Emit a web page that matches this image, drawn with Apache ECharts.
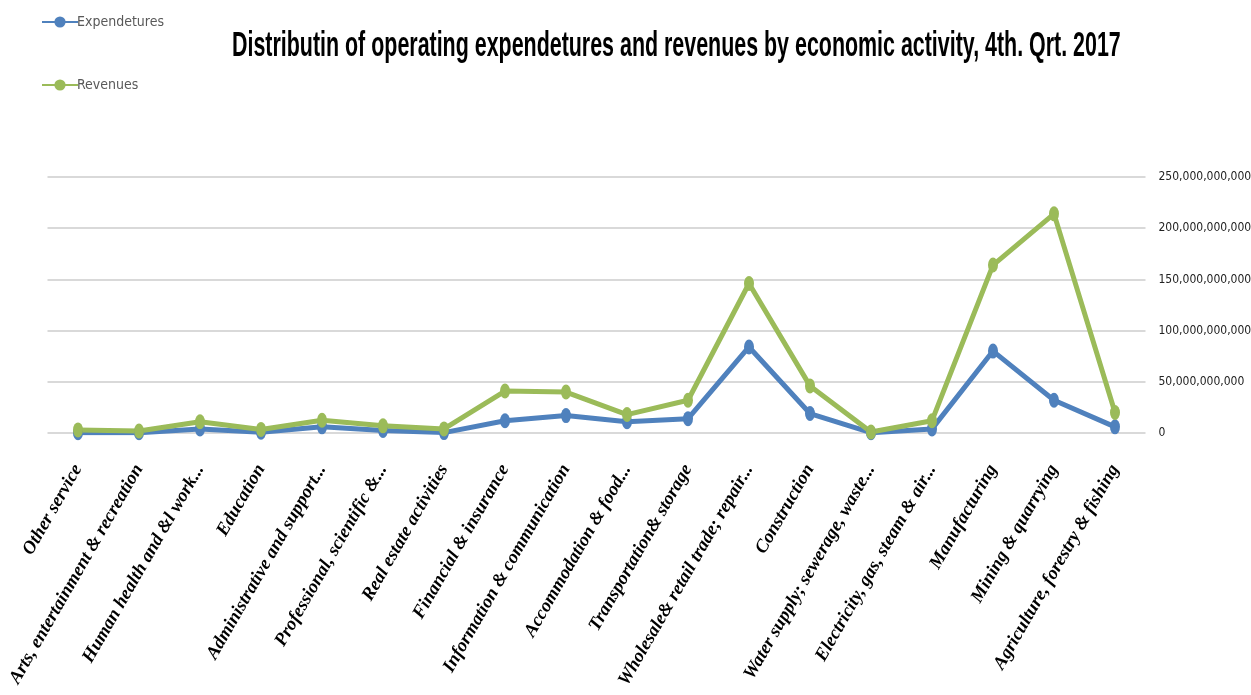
<!DOCTYPE html>
<html>
<head>
<meta charset="utf-8">
<script src="https://cdn.jsdelivr.net/npm/echarts@6/dist/echarts.min.js"></script>
<style>
html,body{margin:0;padding:0;background:#fff;}
#chart{width:1251px;height:695px;}
</style>
</head>
<body>
<div id="chart"></div>
<script>
const categories = [
  "Other service",
  "Arts, entertainment & recreation",
  "Human health and &l work...",
  "Education",
  "Administrative and support...",
  "Professional, scientific &...",
  "Real estate activities",
  "Financial & insurance",
  "Information & communication",
  "Accommodation & food...",
  "Transportation& storage",
  "Wholesale& retail trade; repair...",
  "Construction",
  "Water supply; sewerage, waste...",
  "Electricity, gas, steam & air...",
  "Manufacturing",
  "Mining & quarrying",
  "Agriculture, forestry & fishing"
];
const expenditures = [0.3e9, 0.2e9, 4e9, 0.8e9, 6e9, 2.5e9, 0.4e9, 12e9, 17e9, 11e9, 14e9, 84e9, 19e9, 0.3e9, 4e9, 80e9, 32e9, 6e9];
const revenues = [3e9, 2e9, 11e9, 3.5e9, 12.5e9, 7e9, 4e9, 41e9, 40e9, 18e9, 32e9, 146e9, 46e9, 1e9, 12e9, 164e9, 214e9, 20e9];
const yTicks = { min: 0, max: 250e9, interval: 50e9 };
const title = "Distributin of operating expendetures and revenues by economic activity, 4th. Qrt. 2017";
const narrow = "'DejaVu Sans Condensed', 'Liberation Sans Narrow', 'Roboto Condensed', 'Liberation Sans', sans-serif";

const chart = echarts.init(document.getElementById('chart'));
chart.setOption({
  animation: false,
  backgroundColor: '#ffffff',
  graphic: [{
    type: 'text', left: 232, top: 29, scaleX: 0.612, originX: 0,
    style: { text: title, font: "bold 35px 'Liberation Sans', Arial, sans-serif", fill: '#000' }
  }],
  legend: {
    orient: 'vertical', left: 36, top: 10, itemGap: 49, itemWidth: 36, itemHeight: 14,
    textStyle: { fontFamily: narrow, fontSize: 14, color: '#595959', padding: [0,0,0,-6] }
  },
  grid: { left: 47.5, right: 105.5, top: 177, bottom: 262, containLabel: false, outerBoundsMode: 'none' },
  xAxis: {
    type: 'category', data: categories, boundaryGap: true,
    axisLine: { show: false }, axisTick: { show: false },
    axisLabel: { rotate: 60, interval: 0, margin: 33, fontFamily: 'Liberation Serif', fontStyle: 'italic', fontWeight: 'bold', fontSize: 18.5, color: '#000' }
  },
  yAxis: {
    type: 'value', position: 'right', min: yTicks.min, max: yTicks.max, interval: yTicks.interval,
    axisLine: { show: false }, axisTick: { show: false },
    splitLine: { lineStyle: { color: '#d9d9d9', width: 2 } },
    axisLabel: { margin: 13, fontFamily: narrow, fontSize: 12, color: '#222',
      formatter: v => v.toLocaleString('en-US') }
  },
  series: [
    { name: 'Expendetures', type: 'line', data: expenditures, symbol: 'circle', symbolSize: [10, 15],
      lineStyle: { width: 5, color: '#4f81bd' }, itemStyle: { color: '#4f81bd' } },
    { name: 'Revenues', type: 'line', data: revenues, symbol: 'circle', symbolSize: [10, 15],
      lineStyle: { width: 5, color: '#9bbb59' }, itemStyle: { color: '#9bbb59' } }
  ]
});
</script>
</body>
</html>
